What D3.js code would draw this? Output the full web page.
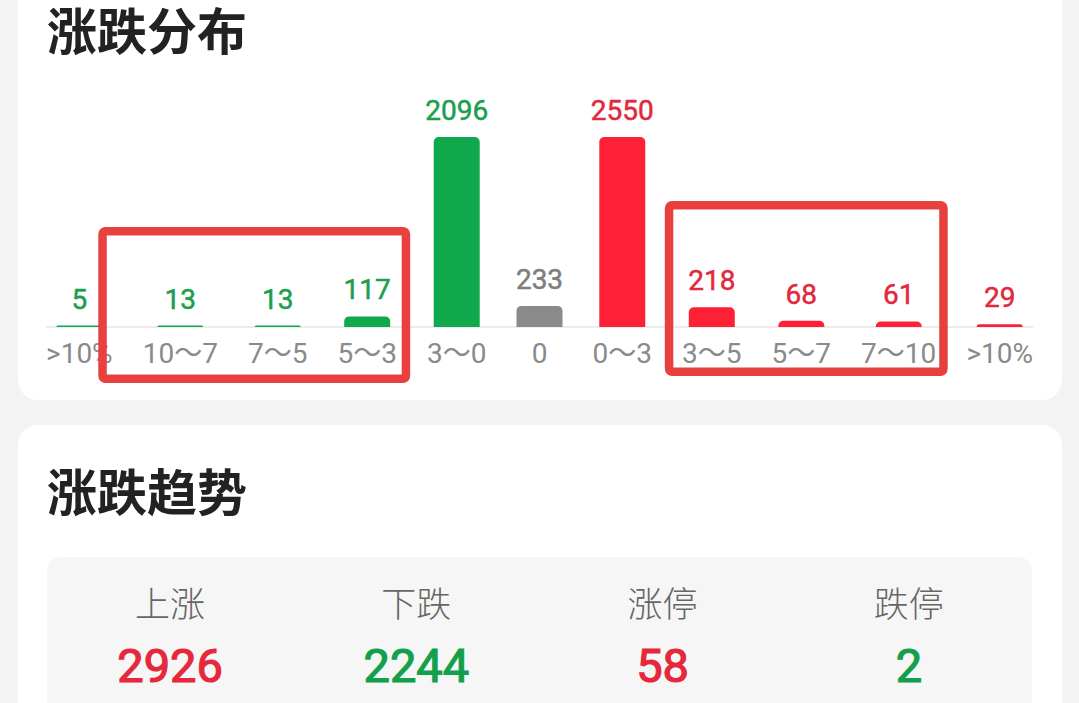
<!DOCTYPE html>
<html><head><meta charset="utf-8">
<script src="https://cdn.jsdelivr.net/npm/d3@7"></script>
<style>body{margin:0;background:#f3f3f3;overflow:hidden}</style>
</head><body>
<svg id="c" width="1079" height="703"></svg>
<script>
// ---------- data ----------
const categories = [">10%", "10～7", "7～5", "5～3", "3～0", "0", "0～3", "3～5", "5～7", "7～10", ">10%"];
const counts = [5, 13, 13, 117, 2096, 233, 2550, 218, 68, 61, 29];
const direction = ["down", "down", "down", "down", "down", "flat", "up", "up", "up", "up", "up"];
const highlightGroups = [[1, 3], [7, 9]];
const statLabels = ["上涨", "下跌", "涨停", "跌停"];
const statValues = [2926, 2244, 58, 2];
const statDirection = ["up", "down", "up", "down"];
const scaleCap = 2096;   // bars taller than this are clamped

// ---------- styles ----------
const barColor = {down: "#10a84c", flat: "#8a8a8a", up: "#fe2136"};
const textColor = {down: "#1b9e4e", flat: "#7e7e7e", up: "#e2283c"};
const cjk = "'Noto Sans CJK SC', sans-serif";
const num = "Roboto, 'Noto Sans CJK SC', sans-serif";

const svg = d3.select("#c");

// cards
svg.append("rect").attr("x", 18).attr("y", -40).attr("width", 1044).attr("height", 440)
  .attr("rx", 20).attr("fill", "#fff");
svg.append("rect").attr("x", 18).attr("y", 425).attr("width", 1044).attr("height", 320)
  .attr("rx", 20).attr("fill", "#fff");

// titles
svg.append("text").attr("x", 47).attr("y", 50).text("涨跌分布")
  .attr("font-family", cjk).attr("font-weight", 700).attr("font-size", 50).attr("fill", "#222");
svg.append("text").attr("x", 47).attr("y", 511).text("涨跌趋势")
  .attr("font-family", cjk).attr("font-weight", 700).attr("font-size", 50).attr("fill", "#222");

// ---------- distribution chart ----------
const left = 46, right = 1033, baseY = 327, barW = 46, maxH = 190, radius = 5;
const idx = d3.range(categories.length);

const catG = svg.append("g");
const catLabels = catG.selectAll("text").data(idx).join("text")
  .attr("y", 363)
  .attr("text-anchor", "middle")
  .attr("font-family", num).attr("font-size", 28).attr("fill", "#8a8a8a")
  .text(i => categories[i]);

// flex "space-between" layout: item width = max(label width, bar width)
const widths = idx.map(i => Math.max(catLabels.nodes()[i].getComputedTextLength(), barW));
const gap = (right - left - d3.sum(widths)) / (idx.length - 1);
let acc = left;
const centers = widths.map(w => { const c = acc + w / 2; acc += w + gap; return c; });
const x = d3.scaleOrdinal().domain(idx).range(centers);

catLabels.attr("x", i => x(i));

const h = d3.scaleLinear().domain([0, scaleCap]).range([0, maxH]).clamp(true);

// baseline
svg.insert("line", "g").attr("x1", left).attr("x2", right).attr("y1", baseY).attr("y2", baseY)
  .attr("stroke", "#ececec").attr("stroke-width", 2);

function topRounded(x0, y0, w, hh, r) {
  r = Math.min(r, hh, w / 2);
  return `M${x0},${y0 + hh}V${y0 + r}A${r},${r} 0 0 1 ${x0 + r},${y0}H${x0 + w - r}A${r},${r} 0 0 1 ${x0 + w},${y0 + r}V${y0 + hh}Z`;
}
const barH = i => Math.max(h(counts[i]), 1.5);

svg.append("g").selectAll("path").data(idx).join("path")
  .attr("d", i => topRounded(x(i) - barW / 2, baseY - barH(i), barW, barH(i), radius))
  .attr("fill", i => barColor[direction[i]]);

svg.append("g").selectAll("text").data(idx).join("text")
  .attr("x", i => x(i)).attr("y", i => baseY - barH(i) - 17)
  .attr("text-anchor", "middle")
  .attr("font-family", num).attr("font-weight", 400).attr("font-size", 28)
  .attr("fill", i => textColor[direction[i]])
  .attr("stroke", i => textColor[direction[i]]).attr("stroke-width", 0.5)
  .text(i => counts[i]);

// highlight boxes (annotation)
const boxStyle = [{padL: 82, padR: 43, top: 227, bottom: 383}, {padL: 47, padR: 49, top: 201, bottom: 376}];
const sw = 8.5;
svg.append("g").selectAll("rect").data(highlightGroups).join("rect")
  .attr("x", (g, k) => x(g[0]) - boxStyle[k].padL + sw / 2)
  .attr("y", (g, k) => boxStyle[k].top + sw / 2)
  .attr("width", (g, k) => x(g[1]) + boxStyle[k].padR - (x(g[0]) - boxStyle[k].padL) - sw)
  .attr("height", (g, k) => boxStyle[k].bottom - boxStyle[k].top - sw)
  .attr("rx", 3)
  .attr("fill", "none").attr("stroke", "#e8403f").attr("stroke-width", sw);

// ---------- stats panel ----------
const px0 = 47, px1 = 1032;
svg.append("rect").attr("x", px0).attr("y", 557).attr("width", px1 - px0).attr("height", 200)
  .attr("rx", 14).attr("fill", "#f6f6f6");
const sx = d3.scaleBand().domain(d3.range(statLabels.length)).range([px0, px1]);
const st = svg.append("g");
st.selectAll("text.l").data(d3.range(statLabels.length)).join("text").attr("class", "l")
  .attr("x", i => sx(i) + sx.bandwidth() / 2).attr("y", 617)
  .attr("text-anchor", "middle").attr("font-family", cjk).attr("font-weight", 300)
  .attr("font-size", 35).attr("fill", "#666")
  .text(i => statLabels[i]);
st.selectAll("text.v").data(d3.range(statValues.length)).join("text").attr("class", "v")
  .attr("x", i => sx(i) + sx.bandwidth() / 2).attr("y", 682)
  .attr("text-anchor", "middle").attr("font-family", num).attr("font-weight", 400)
  .attr("font-size", 47).attr("fill", i => statDirection[i] === "up" ? "#e5283c" : "#13a04b")
  .attr("stroke", i => statDirection[i] === "up" ? "#e5283c" : "#13a04b").attr("stroke-width", 1.2)
  .text(i => statValues[i]);
</script>
</body></html>
